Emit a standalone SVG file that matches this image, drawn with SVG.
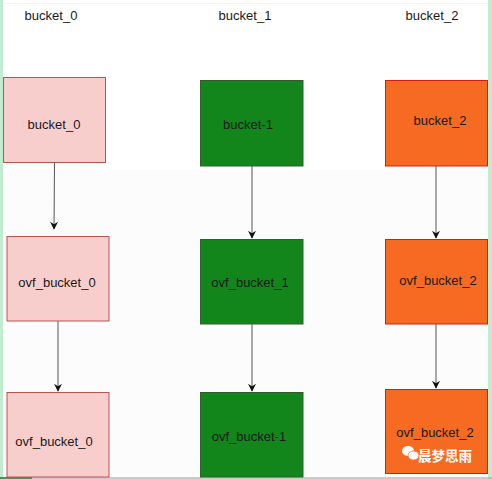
<svg xmlns="http://www.w3.org/2000/svg" width="492" height="479" viewBox="0 0 492 479">
<style>
text{font-family:"Liberation Sans",Arial,sans-serif;font-size:13px;fill:#1a1a1a;text-anchor:middle;dominant-baseline:central}
.p{fill:#f8cecc;stroke:#b85450;stroke-width:1}
.g{fill:#12861a;stroke:#2f5f2f;stroke-width:1}
.o{fill:#f66a22;stroke:#d81b0e;stroke-width:1}
.c{stroke:#555;stroke-width:1;fill:none;marker-end:url(#ah)}
.wm{fill:#fff;font-size:13.5px;font-weight:bold;font-family:"Noto Sans CJK SC",sans-serif;text-anchor:start}
</style>
<defs>
<marker id="ah" viewBox="0 0 10 10" refX="9" refY="5" markerWidth="8" markerHeight="8" markerUnits="userSpaceOnUse" orient="auto">
<path d="M0,0 L10,5 L0,10 L3,5 Z" fill="#111"/>
</marker>
</defs>
<rect width="492" height="479" fill="#fff"/>
<rect x="0" y="170" width="492" height="309" fill="#fcfcfc"/>
<line x1="0" y1="3.5" x2="492" y2="3.5" stroke="#f4f4f4"/>
<rect x="0" y="0" width="3" height="479" fill="#c2ecd0"/>
<rect x="488" y="0" width="4" height="479" fill="#c2ecd0"/>
<line x1="0" y1="478" x2="492" y2="478" stroke="#9a9a9a"/>
<line x1="0" y1="478" x2="32" y2="478" stroke="#2e7a36" stroke-width="1.5"/>
<g id="labels">
<text x="51" y="15">bucket_0</text>
<text x="245" y="15">bucket_1</text>
<text x="432" y="15">bucket_2</text>
</g>
<g id="connectors">
<line class="c" x1="54.5" y1="163" x2="54" y2="229"/>
<line class="c" x1="58" y1="321" x2="58" y2="391"/>
<line class="c" x1="252" y1="166" x2="252" y2="238"/>
<line class="c" x1="252" y1="324" x2="252" y2="391"/>
<line class="c" x1="436" y1="166" x2="436" y2="238"/>
<line class="c" x1="436" y1="324" x2="436" y2="388"/>
</g>
<g id="bucket_0"><rect class="p" x="3.5" y="77.5" width="102" height="85"/><text x="54" y="124">bucket_0</text></g>
<g id="ovf_bucket_0_a"><rect class="p" x="7" y="236.5" width="102" height="84.5"/><text x="57" y="282">ovf_bucket_0</text></g>
<g id="ovf_bucket_0_b"><rect class="p" x="7" y="392.5" width="102" height="84.5"/><text x="54" y="441">ovf_bucket_0</text></g>
<g id="bucket_1"><rect class="g" x="200.5" y="80.5" width="102.5" height="85.5"/><text x="248" y="124">bucket-1</text></g>
<g id="ovf_bucket_1_a"><rect class="g" x="200.5" y="239.5" width="102.5" height="84.5"/><text x="250" y="282">ovf_bucket_1</text></g>
<g id="ovf_bucket_1_b"><rect class="g" x="200.5" y="392.5" width="102.5" height="84.5"/><text x="249" y="436">ovf_bucket-1</text></g>
<g id="bucket_2"><rect class="o" x="385.5" y="80.5" width="102" height="85.5"/><text x="440" y="120">bucket_2</text></g>
<g id="ovf_bucket_2_a"><rect class="o" x="385.5" y="239.5" width="102" height="84.5"/><text x="438" y="280">ovf_bucket_2</text></g>
<g id="ovf_bucket_2_b"><rect class="o" x="385.5" y="389.5" width="102" height="84"/><text x="435" y="432">ovf_bucket_2</text></g>
<g id="watermark">
<ellipse cx="408" cy="451" rx="6" ry="5" fill="#fff"/>
<ellipse cx="413.5" cy="455.5" rx="5.5" ry="4.5" fill="#fff" stroke="#f66a22" stroke-width="0.8"/>
<text class="wm" x="418" y="455">晨梦思雨</text>
</g>
</svg>
